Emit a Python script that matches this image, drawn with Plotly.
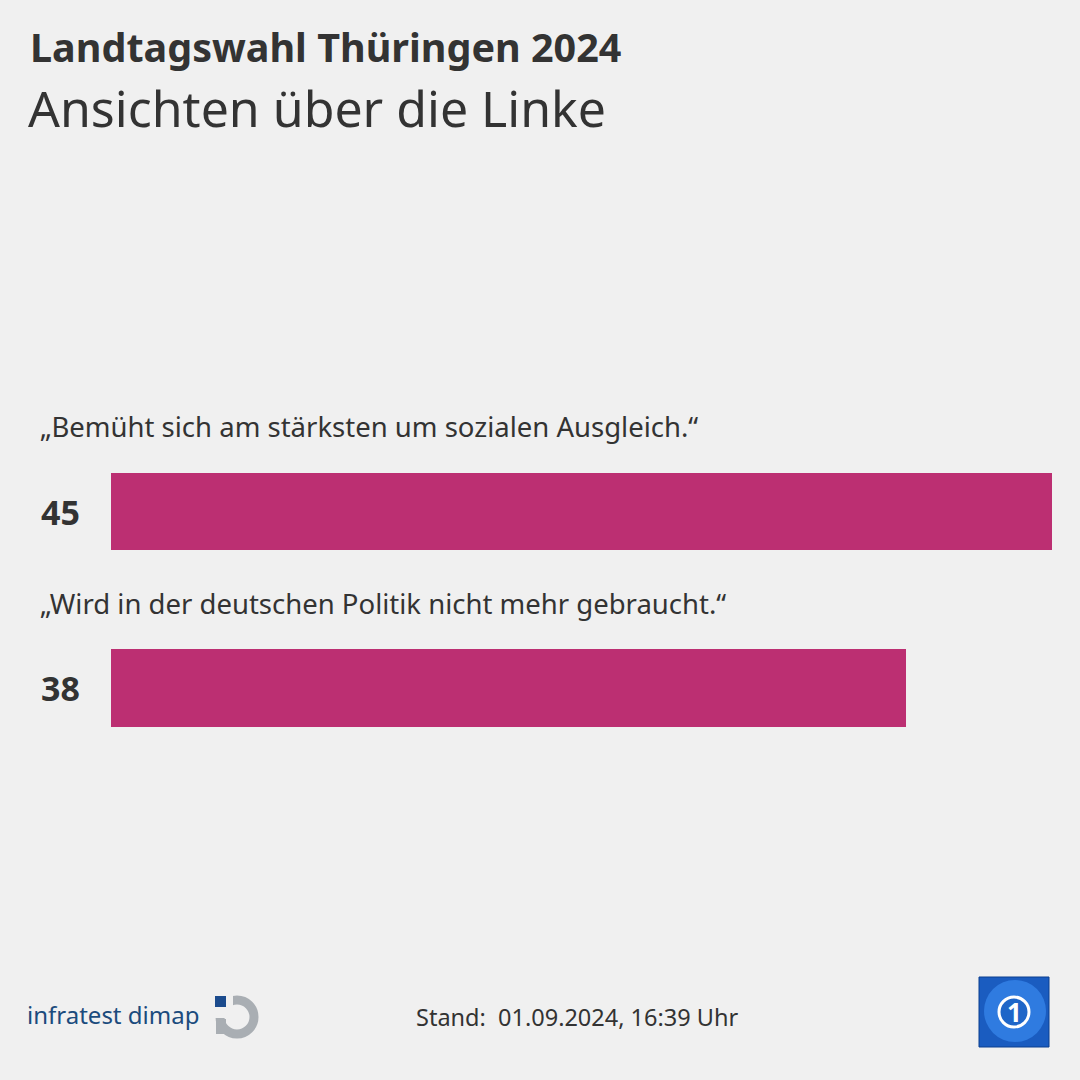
import plotly.graph_objects as go

# ---- data ----
statements = ["„Bemüht sich am stärksten um sozialen Ausgleich.“",
              "„Wird in der deutschen Politik nicht mehr gebraucht.“"]
values = [45, 38]
title = "Landtagswahl Thüringen 2024"
subtitle = "Ansichten über die Linke"
stand = "Stand:  01.09.2024, 16:39 Uhr"

BG = "#f0f0f0"
BAR = "#bc2f72"
TXT = "#333333"
FONT = "Noto Sans"

# plot area in pixels
L, R, T, B = 111, 1052, 380, 780
W, H = R - L, B - T


def xp(px):
    return (px - L) / W


def yp(py):
    return (B - py) / H


idx = list(range(len(values)))

fig = go.Figure()
fig.add_trace(go.Bar(
    x=values, y=idx, orientation="h", width=0.44,
    marker=dict(color=BAR, line=dict(width=0)),
    hoverinfo="skip", showlegend=False,
))

annotations = []
for i, (s, v) in enumerate(zip(statements, values)):
    annotations.append(dict(
        x=xp(38), xref="paper", y=i - 0.48, yref="y", text=s,
        xanchor="left", yanchor="middle", showarrow=False,
        font=dict(family=FONT, size=27.5, color=TXT)))
    annotations.append(dict(
        x=xp(82), xref="paper", y=i, yref="y", text=f"<b>{v}</b>",
        xanchor="right", yanchor="middle", showarrow=False,
        font=dict(family=FONT, size=34, color=TXT)))

annotations += [
    dict(x=xp(28), y=yp(47), xref="paper", yref="paper", text=f"<b>{title}</b>",
         xanchor="left", yanchor="middle", showarrow=False,
         font=dict(family=FONT, size=39.5, color=TXT)),
    dict(x=xp(26), y=yp(108), xref="paper", yref="paper", text=subtitle,
         xanchor="left", yanchor="middle", showarrow=False,
         font=dict(family=FONT, size=50, color=TXT)),
    dict(x=xp(577), y=yp(1017), xref="paper", yref="paper", text=stand,
         xanchor="center", yanchor="middle", showarrow=False,
         font=dict(family=FONT, size=23.5, color=TXT)),
    dict(x=xp(25), y=yp(1014), xref="paper", yref="paper", text="infratest dimap",
         xanchor="left", yanchor="middle", showarrow=False,
         font=dict(family=FONT, size=24, color="#1b4b7d")),
    dict(x=xp(1014), y=yp(1012), xref="paper", yref="paper", text="<b>1</b>",
         xanchor="center", yanchor="middle", showarrow=False,
         font=dict(family=FONT, size=26, color="#ffffff")),
]

shapes = [
    # infratest dimap logo
    dict(type="circle", xref="paper", yref="paper",
         x0=xp(220), x1=xp(254), y0=yp(1000), y1=yp(1034),
         line=dict(color="#a9aeb3", width=9), fillcolor="rgba(0,0,0,0)"),
    dict(type="rect", xref="paper", yref="paper",
         x0=xp(208), x1=xp(233), y0=yp(992), y1=yp(1018),
         line=dict(width=0), fillcolor=BG),
    dict(type="rect", xref="paper", yref="paper",
         x0=xp(216), x1=xp(226), y0=yp(1019), y1=yp(1034),
         line=dict(width=0), fillcolor="#a9aeb3"),
    dict(type="rect", xref="paper", yref="paper",
         x0=xp(215), x1=xp(226), y0=yp(996), y1=yp(1007),
         line=dict(width=0), fillcolor="#1b4b8d"),
    # ARD tagesschau logo
    dict(type="rect", xref="paper", yref="paper",
         x0=xp(979), x1=xp(1049), y0=yp(977), y1=yp(1047),
         line=dict(color="#0b3f8f", width=1), fillcolor="#1a5cc0"),
    dict(type="circle", xref="paper", yref="paper",
         x0=xp(984), x1=xp(1046), y0=yp(980), y1=yp(1042),
         line=dict(width=0), fillcolor="#2f7be0"),
    dict(type="circle", xref="paper", yref="paper",
         x0=xp(999), x1=xp(1029), y0=yp(997), y1=yp(1027),
         line=dict(color="#ffffff", width=3), fillcolor="#1f66c8"),
]

fig.update_layout(
    width=1080, height=1080,
    paper_bgcolor=BG, plot_bgcolor=BG,
    margin=dict(l=L, r=1080 - R, t=T, b=1080 - B, pad=0),
    xaxis=dict(range=[0, 45], visible=False, fixedrange=True),
    yaxis=dict(range=[1.521, -0.745], visible=False, fixedrange=True),
    bargap=0, showlegend=False,
    annotations=annotations, shapes=shapes,
)

fig.write_html("out.html", config={"displayModeBar": False},
               post_script="document.body.style.margin='0';")
